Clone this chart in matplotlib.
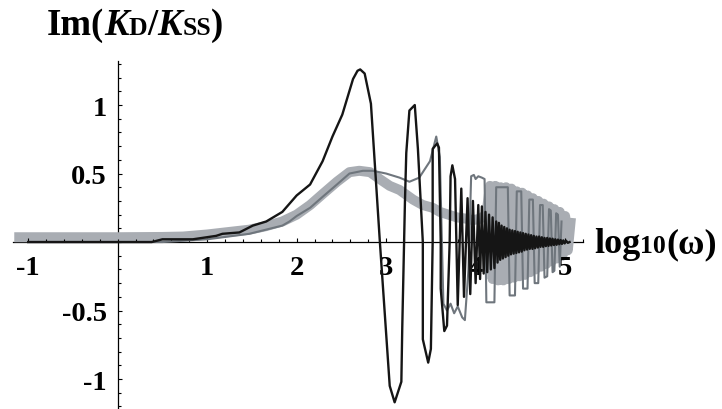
# coding=utf-8
"""
Parte imaginaria de KD/KSS en función de log10(omega).
"""

import matplotlib
matplotlib.use('Agg')
import matplotlib.pyplot as plt
from matplotlib.ticker import MultipleLocator

# Curva suave (gris claro, gruesa)
suave_x = [-1.1, 0.0, 0.5, 0.73, 1.0, 1.2, 1.47, 1.65, 1.84, 2.0, 2.15, 2.29,
           2.45, 2.59, 2.7, 2.82, 2.95, 3.04, 3.15, 3.3, 3.41, 3.52, 3.6,
           3.79, 3.9, 3.97, 4.05, 4.12, 4.16, 4.19, 4.22, 4.25, 4.28, 4.31,
           4.34, 4.37, 4.40, 4.43, 4.46, 4.49, 4.52, 4.55, 4.58, 4.61, 4.64,
           4.67, 4.70, 4.73, 4.76, 4.79, 4.82, 4.85, 4.88, 4.91, 4.94, 4.97,
           5.0, 5.03, 5.06]
suave_y = [0.035, 0.035, 0.037, 0.04, 0.055, 0.07, 0.09, 0.115, 0.15, 0.2,
           0.27, 0.35, 0.44, 0.51, 0.52, 0.51, 0.45, 0.41, 0.38, 0.31, 0.27,
           0.25, 0.22, 0.18, 0.17, 0.16, 0.17, 0.2, 0.41, -0.27, 0.41, -0.28,
           0.40, -0.28, 0.40, -0.27, 0.39, -0.26, 0.37, -0.25, 0.36, -0.24,
           0.34, -0.22, 0.32, -0.2, 0.3, -0.18, 0.28, -0.16, 0.26, -0.14,
           0.24, -0.12, 0.22, -0.1, 0.19, -0.06, 0.14]

# Curva intermedia (gris medio)
medio_x = [-1.0, 0.5, 1.0, 1.47, 1.84, 1.92, 2.0, 2.15, 2.29, 2.45, 2.59,
           2.74, 2.85, 3.0, 3.15, 3.26, 3.37, 3.49, 3.56, 3.6, 3.64, 3.68,
           3.72, 3.76, 3.8, 3.85, 3.88, 3.92, 3.95, 3.98, 4.0, 4.03, 4.07,
           4.1, 4.12, 4.21, 4.23, 4.36, 4.38, 4.44, 4.46, 4.51, 4.53, 4.58,
           4.6, 4.64, 4.66, 4.7, 4.72, 4.75, 4.77, 4.8, 4.82, 4.84, 4.86,
           4.88, 4.9, 4.92, 4.94, 4.96]
medio_y = [0.0, 0.0, 0.02, 0.06, 0.12, 0.15, 0.19, 0.25, 0.33, 0.42, 0.50,
           0.52, 0.52, 0.50, 0.47, 0.44, 0.47, 0.59, 0.77, 0.62, -0.45, -0.5,
           -0.45, -0.52, -0.47, -0.55, -0.57, -0.2, 0.48, 0.49, 0.46, 0.48,
           0.47, 0.46, -0.44, -0.44, 0.40, 0.40, -0.39, -0.39, 0.37, 0.37,
           -0.34, -0.34, 0.31, 0.31, -0.3, -0.3, 0.27, 0.27, -0.26, -0.25,
           0.24, 0.23, -0.22, -0.21, 0.21, 0.2, -0.18, 0.15]

# Curva oscura (negro)
oscuro_x = [-1.0, 0.38, 0.5, 0.84, 1.1, 1.17, 1.36, 1.51, 1.66, 1.84, 2.0,
            2.15, 2.29, 2.4, 2.51, 2.63, 2.68, 2.71, 2.76, 2.83, 2.93, 3.04,
            3.095, 3.17, 3.18, 3.21, 3.225, 3.26, 3.32, 3.355, 3.41, 3.41,
            3.47, 3.5, 3.52, 3.52, 3.57, 3.59, 3.61, 3.61, 3.65, 3.68, 3.71,
            3.72, 3.74, 3.77, 3.8, 3.84, 3.87, 3.91, 3.94, 3.97, 4.0, 4.03,
            4.05, 4.07, 4.09, 4.11, 4.13, 4.15, 4.17, 4.19, 4.21, 4.23, 4.245,
            4.26, 4.275, 4.29, 4.305, 4.32, 4.335, 4.35, 4.365, 4.38, 4.395,
            4.41, 4.425, 4.44, 4.455, 4.47, 4.485, 4.5, 4.515, 4.53, 4.545,
            4.56, 4.575, 4.59, 4.605, 4.62, 4.635, 4.65, 4.665, 4.68, 4.695,
            4.71, 4.725, 4.74, 4.755, 4.77, 4.785, 4.8, 4.815, 4.83, 4.845,
            4.86, 4.875, 4.89, 4.905, 4.92, 4.935, 4.95, 4.965, 4.98, 4.995,
            5.01, 5.03, 5.05]
oscuro_y = [0.0, 0.0, 0.02, 0.02, 0.045, 0.06, 0.07, 0.12, 0.15, 0.22, 0.34,
            0.42, 0.59, 0.77, 0.93, 1.19, 1.25, 1.26, 1.23, 1.01, 0.0, -1.05,
            -1.17, -1.02, -0.63, 0.29, 0.65, 0.96, 1.0, 0.68, 0.0, -0.71,
            -0.88, -0.78, 0.0, 0.68, 0.72, 0.69, 0.0, -0.34, -0.65, -0.61,
            0.0, 0.48, 0.56, 0.46, -0.46, 0.39, -0.4, 0.32, -0.38, 0.3, -0.3,
            0.27, -0.27, 0.26, -0.23, 0.22, -0.22, 0.2, -0.2, 0.18, -0.19,
            0.15, -0.15, 0.14, -0.13, 0.12, -0.12, 0.11, -0.11, 0.1, -0.1,
            0.09, -0.09, 0.085, -0.085, 0.08, -0.08, 0.075, -0.075, 0.07,
            -0.07, 0.065, -0.06, 0.06, -0.055, 0.055, -0.05, 0.05, -0.05,
            0.045, -0.045, 0.04, -0.04, 0.04, -0.035, 0.035, -0.035, 0.03,
            -0.03, 0.03, -0.028, 0.026, -0.025, 0.024, -0.022, 0.02, -0.02,
            0.018, -0.016, 0.015, -0.014, 0.012, -0.01, 0.01, -0.006, 0.0]

# Marcas de los ejes
ticks_x = [-1, 1, 2, 3, 4, 5]
ticks_y = [-1, -0.5, 0.5, 1]
etiquetas_y = ['-1', '-0.5', '0.5', '1']

FUENTE = 'Liberation Serif'


def texto_compuesto(fig, x, y, partes):
    """
    Escribe un texto formado por trozos de distinto tamaño y estilo,
    alineados sobre la misma línea base.

    :param x: Posición x en pixeles
    :param y: Posición y (línea base) en pixeles, desde abajo
    :param partes: Lista de (texto, tamaño, estilo)
    """
    renderer = fig.canvas.get_renderer()
    for s, size, style in partes:
        t = fig.text(x / fig.dpi, y / fig.dpi, s, fontsize=size,
                     fontweight='bold', fontstyle=style, family=FUENTE,
                     va='baseline', ha='left', transform=fig.dpi_scale_trans)
        x += t.get_window_extent(renderer).width


fig = plt.figure(figsize=(7.22, 4.10), dpi=100)
ax = fig.add_axes([13 / 722., 1.2 / 410., 570 / 722., 346.6 / 410.])
ax.set_xlim(-1.17, 5.2)
ax.set_ylim(-1.21, 1.32)

ax.plot(suave_x, suave_y, color='#a9adb3', lw=7.2, solid_joinstyle='round',
        zorder=1)
ax.plot(medio_x, medio_y, color='#6f767d', lw=1.5, zorder=2)
ax.plot(oscuro_x, oscuro_y, color='#151515', lw=1.7, zorder=3)

# Ejes al estilo Mathematica
for lado in ['top', 'right']:
    ax.spines[lado].set_visible(False)
for lado in ['left', 'bottom']:
    ax.spines[lado].set_position(('data', 0))
    ax.spines[lado].set_linewidth(0.9)
    ax.spines[lado].set_zorder(0.5)
ax.patch.set_visible(False)

ax.set_xticks(ticks_x)
ax.set_xticklabels([str(v) for v in ticks_x])
ax.set_yticks(ticks_y)
ax.set_yticklabels(etiquetas_y)
ax.xaxis.set_minor_locator(MultipleLocator(0.2))
ax.yaxis.set_minor_locator(MultipleLocator(0.1))
ax.tick_params(which='both', direction='in', width=0.8)
ax.tick_params(which='major', length=3)
ax.tick_params(which='minor', length=2.2)
ax.tick_params(axis='x', which='major', pad=9)
ax.tick_params(axis='y', which='major', pad=8)
for lab in ax.get_xticklabels() + ax.get_yticklabels():
    lab.set_fontsize(20.5)
    lab.set_fontweight('bold')
    lab.set_family(FUENTE)

# Títulos de los ejes
texto_compuesto(fig, 47, 410 - 35, [('Im(', 26.5, 'normal'),
                                    ('K', 26.5, 'italic'),
                                    ('D', 18.5, 'normal'),
                                    ('/', 26.5, 'normal'),
                                    ('K', 26.5, 'italic'),
                                    ('SS', 18.5, 'normal'),
                                    (')', 26.5, 'normal')])
texto_compuesto(fig, 594, 410 - 253, [('log', 26, 'normal'),
                                      ('10', 18.5, 'normal'),
                                      (u'(\u03c9)', 26, 'normal')])

fig.savefig('out.png', dpi=100)
